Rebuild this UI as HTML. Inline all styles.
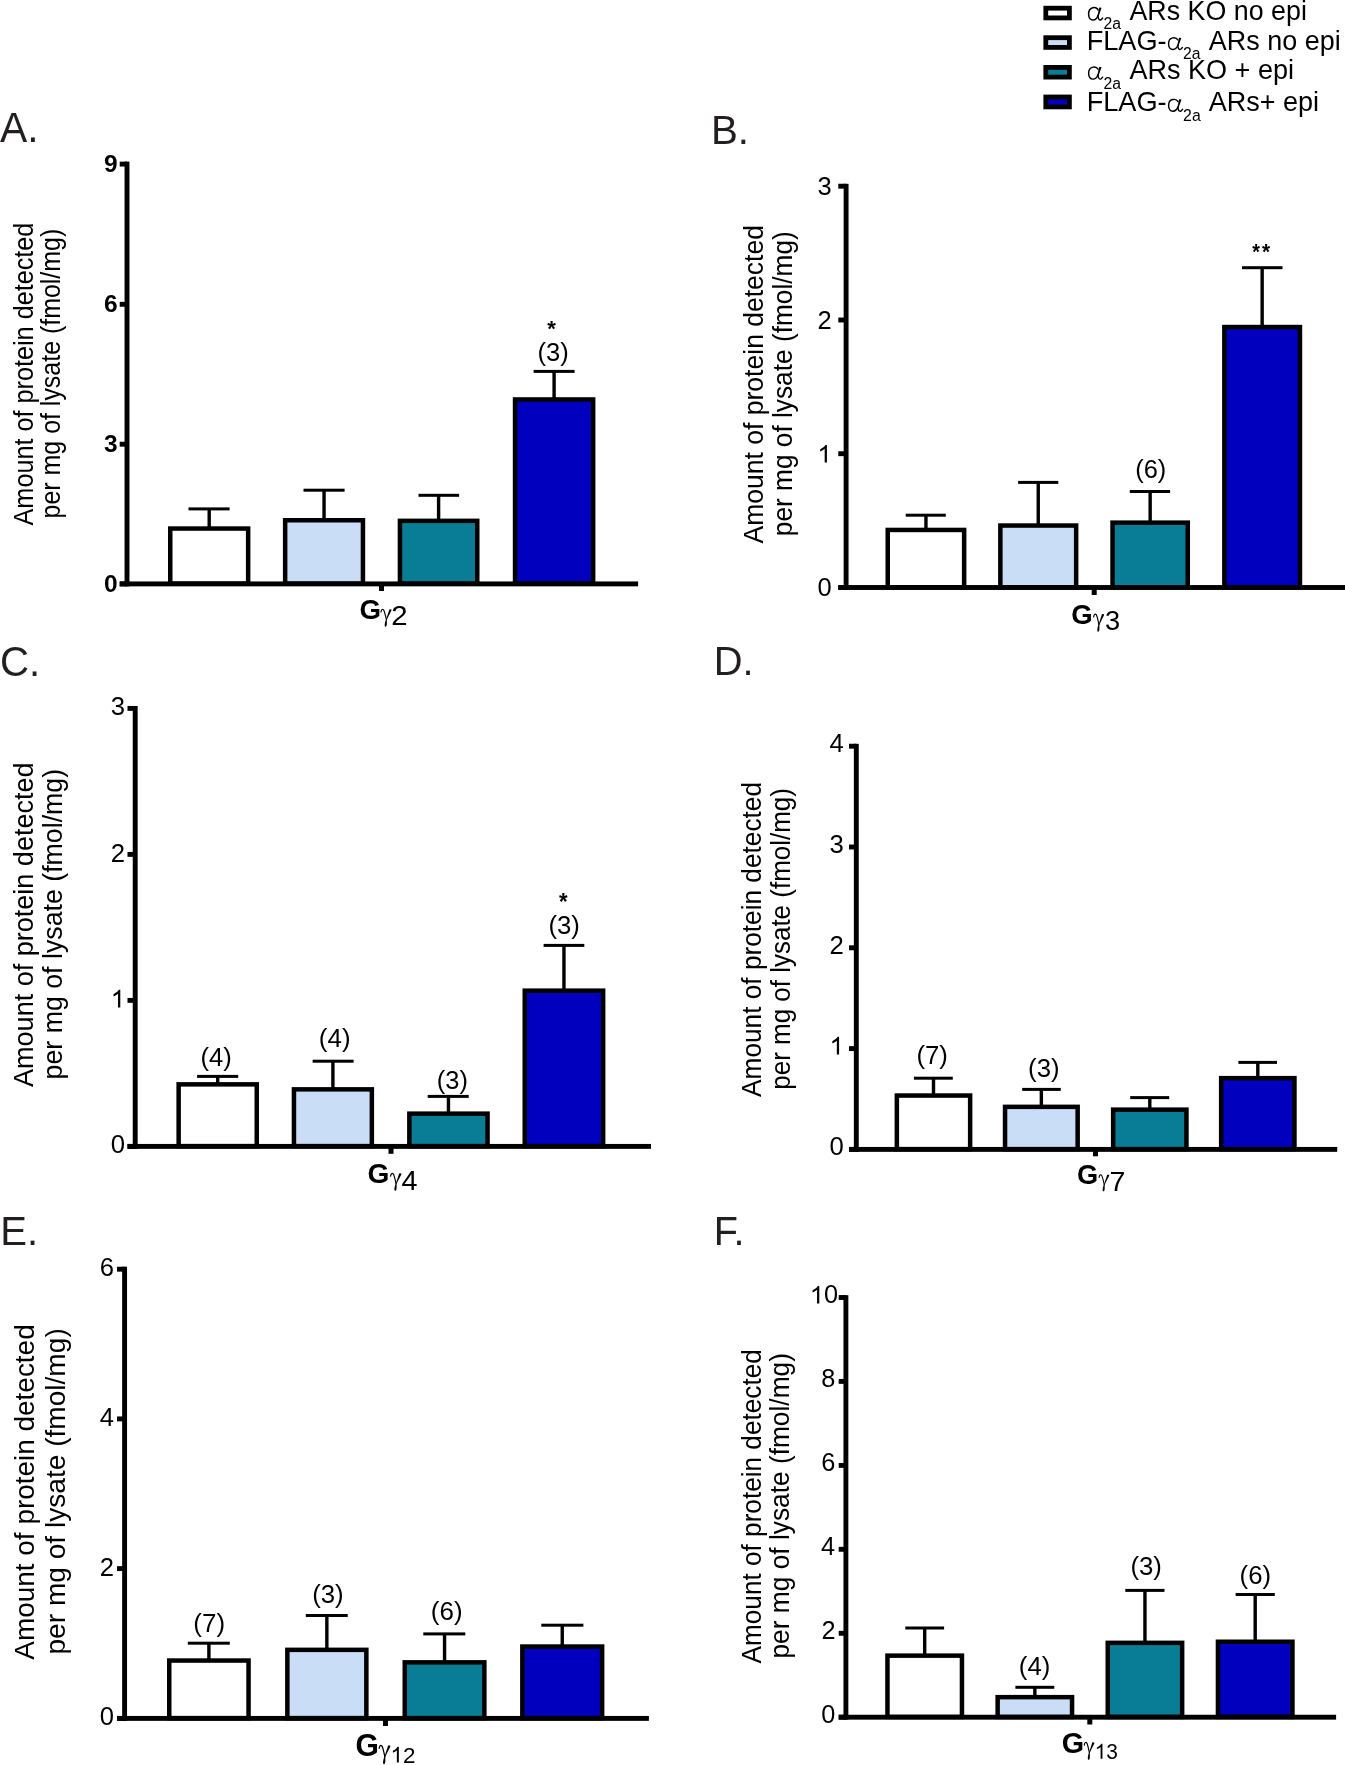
<!DOCTYPE html><html><head><meta charset="utf-8"><title>Figure</title><style>html,body{margin:0;padding:0;background:#fff;overflow:hidden;}svg{display:block;will-change:transform;}</style></head><body>
<svg width="1345" height="1765" viewBox="0 0 1345 1765">
<rect x="0" y="0" width="1345" height="1765" fill="#fff"/>
<rect x="119.70" y="161.65" width="7.30" height="4.90" fill="#000"/>
<rect x="119.70" y="301.85" width="7.30" height="4.90" fill="#000"/>
<rect x="119.70" y="441.75" width="7.30" height="4.90" fill="#000"/>
<rect x="119.70" y="581.45" width="7.30" height="4.90" fill="#000"/>
<rect x="124.55" y="161.60" width="4.90" height="424.75" fill="#000"/>
<rect x="207.50" y="508.90" width="3.40" height="18.40" fill="#000"/>
<rect x="188.50" y="507.40" width="41.10" height="3.00" fill="#000"/>
<rect x="170.25" y="528.55" width="77.90" height="55.10" fill="#ffffff" stroke="#000" stroke-width="4.5"/>
<rect x="322.35" y="490.20" width="3.40" height="28.80" fill="#000"/>
<rect x="303.50" y="488.70" width="41.10" height="3.00" fill="#000"/>
<rect x="285.15" y="520.25" width="77.80" height="63.40" fill="#c9def6" stroke="#000" stroke-width="4.5"/>
<rect x="436.90" y="495.30" width="3.40" height="24.30" fill="#000"/>
<rect x="418.50" y="493.80" width="40.60" height="3.00" fill="#000"/>
<rect x="399.95" y="520.85" width="77.30" height="62.80" fill="#087d95" stroke="#000" stroke-width="4.5"/>
<rect x="552.40" y="371.40" width="3.40" height="26.80" fill="#000"/>
<rect x="533.60" y="369.90" width="41.00" height="3.00" fill="#000"/>
<rect x="515.05" y="399.45" width="78.10" height="184.20" fill="#0000be" stroke="#000" stroke-width="4.5"/>
<rect x="119.70" y="581.45" width="518.40" height="4.90" fill="#000"/>
<rect x="379.00" y="583.90" width="5.00" height="7.10" fill="#000"/>
<text x="103.97" y="172.03" font-family='"Liberation Sans", sans-serif' font-weight="bold" font-style="normal" font-size="24.50" fill="#000" >9</text>
<text x="103.97" y="312.23" font-family='"Liberation Sans", sans-serif' font-weight="bold" font-style="normal" font-size="24.50" fill="#000" >6</text>
<text x="103.97" y="452.12" font-family='"Liberation Sans", sans-serif' font-weight="bold" font-style="normal" font-size="24.50" fill="#000" >3</text>
<text x="103.97" y="591.83" font-family='"Liberation Sans", sans-serif' font-weight="bold" font-style="normal" font-size="24.50" fill="#000" >0</text>
<text x="537.41" y="360.67" font-family='"Liberation Sans", sans-serif' font-weight="normal" font-style="normal" font-size="25.75" fill="#000" textLength="31.28" lengthAdjust="spacingAndGlyphs" >(3)</text>
<text x="547.23" y="335.92" font-family='"Liberation Sans", sans-serif' font-weight="bold" font-style="normal" font-size="22.85" fill="#000" textLength="8.59" lengthAdjust="spacingAndGlyphs" >*</text>
<text x="359.46" y="618.62" font-family='"Liberation Sans", sans-serif' font-weight="bold" font-style="normal" font-size="28.39" fill="#000" textLength="21.55" lengthAdjust="spacingAndGlyphs" >G</text>
<path d="M381.01,612.02 C381.24,609.60 382.52,608.67 383.56,609.79 C384.72,611.28 385.42,616.11 386.35,619.46" fill="none" stroke="#000" stroke-width="1.15" stroke-linecap="round"/>
<path d="M389.48,609.23 L391.45,609.42 Q391.68,609.97 391.34,610.72 L386.87,619.46 L386.00,619.46 Z" fill="#000"/>
<path d="M386.00,618.90 C385.30,621.69 384.26,624.67 384.84,626.16 C385.42,627.27 386.70,626.53 386.81,624.30 C386.93,622.44 386.81,620.58 386.87,618.90 Z" fill="#000"/>
<text x="391.23" y="625.10" font-family='"Liberation Sans", sans-serif' font-weight="normal" font-style="normal" font-size="28.08" fill="#000" textLength="16.34" lengthAdjust="spacingAndGlyphs" >2</text>
<text x="-0.08" y="141.90" font-family='"Liberation Sans", sans-serif' font-weight="normal" font-style="normal" font-size="42.01" fill="#231f20" textLength="38.59" lengthAdjust="spacingAndGlyphs" >A.</text>
<text transform="translate(32.70,525.45) rotate(-90)" x="0" y="0" font-family='"Liberation Sans", sans-serif' font-size="28.2" textLength="302.86" lengthAdjust="spacingAndGlyphs">Amount of protein detected</text>
<text transform="translate(60.40,518.42) rotate(-90)" x="0" y="0" font-family='"Liberation Sans", sans-serif' font-size="28.2" textLength="289.68" lengthAdjust="spacingAndGlyphs">per mg of lysate (fmol/mg)</text>
<rect x="838.30" y="183.75" width="7.80" height="4.90" fill="#000"/>
<rect x="838.30" y="317.55" width="7.80" height="4.90" fill="#000"/>
<rect x="838.30" y="451.25" width="7.80" height="4.90" fill="#000"/>
<rect x="838.30" y="585.05" width="7.80" height="4.90" fill="#000"/>
<rect x="843.65" y="183.80" width="4.90" height="406.15" fill="#000"/>
<rect x="924.25" y="515.20" width="3.40" height="13.50" fill="#000"/>
<rect x="905.70" y="513.70" width="40.10" height="3.00" fill="#000"/>
<rect x="887.75" y="529.95" width="76.40" height="57.30" fill="#ffffff" stroke="#000" stroke-width="4.5"/>
<rect x="1036.55" y="482.40" width="3.40" height="41.90" fill="#000"/>
<rect x="1018.10" y="480.90" width="40.20" height="3.00" fill="#000"/>
<rect x="1000.35" y="525.55" width="75.80" height="61.70" fill="#c9def6" stroke="#000" stroke-width="4.5"/>
<rect x="1148.45" y="491.50" width="3.40" height="29.90" fill="#000"/>
<rect x="1129.80" y="490.00" width="40.30" height="3.00" fill="#000"/>
<rect x="1112.55" y="522.65" width="75.20" height="64.60" fill="#087d95" stroke="#000" stroke-width="4.5"/>
<rect x="1260.45" y="267.70" width="3.40" height="58.10" fill="#000"/>
<rect x="1242.00" y="266.20" width="40.50" height="3.00" fill="#000"/>
<rect x="1224.35" y="327.05" width="75.60" height="260.20" fill="#0000be" stroke="#000" stroke-width="4.5"/>
<rect x="838.30" y="585.05" width="506.70" height="4.90" fill="#000"/>
<rect x="1091.70" y="587.50" width="5.00" height="7.50" fill="#000"/>
<text x="817.42" y="194.97" font-family='"Liberation Sans", sans-serif' font-weight="normal" font-style="normal" font-size="25.50" fill="#000" >3</text>
<text x="817.42" y="328.90" font-family='"Liberation Sans", sans-serif' font-weight="normal" font-style="normal" font-size="25.50" fill="#000" >2</text>
<path d="M372.6,0L284.7,0L284.7,-536Q252.9,-507 201.2,-478Q149.4,-449 107.9,-434.5L107.9,-516Q181.6,-549 236.8,-596Q292,-643.5 314.9,-688L372.6,-688Z" fill="#000" transform="translate(817.42,462.47) scale(0.02550,0.02550)"/>
<text x="817.42" y="596.27" font-family='"Liberation Sans", sans-serif' font-weight="normal" font-style="normal" font-size="25.50" fill="#000" >0</text>
<text x="1135.22" y="478.31" font-family='"Liberation Sans", sans-serif' font-weight="normal" font-style="normal" font-size="25.54" fill="#000" textLength="31.06" lengthAdjust="spacingAndGlyphs" >(6)</text>
<text x="1252.14" y="259.25" font-family='"Liberation Sans", sans-serif' font-weight="bold" font-style="normal" font-size="22.31" fill="#000" textLength="7.68" lengthAdjust="spacingAndGlyphs" >*</text>
<text x="1261.94" y="259.25" font-family='"Liberation Sans", sans-serif' font-weight="bold" font-style="normal" font-size="22.31" fill="#000" textLength="8.09" lengthAdjust="spacingAndGlyphs" >*</text>
<text x="1071.17" y="623.52" font-family='"Liberation Sans", sans-serif' font-weight="bold" font-style="normal" font-size="28.25" fill="#000" textLength="21.43" lengthAdjust="spacingAndGlyphs" >G</text>
<path d="M1093.70,616.86 C1093.93,614.42 1095.18,613.48 1096.21,614.60 C1097.35,616.11 1098.03,621.00 1098.94,624.38" fill="none" stroke="#000" stroke-width="1.16" stroke-linecap="round"/>
<path d="M1102.02,614.04 L1103.96,614.23 Q1104.19,614.79 1103.84,615.54 L1099.45,624.38 L1098.60,624.38 Z" fill="#000"/>
<path d="M1098.60,623.82 C1097.92,626.64 1096.89,629.64 1097.46,631.15 C1098.03,632.28 1099.28,631.52 1099.40,629.27 C1099.51,627.39 1099.40,625.51 1099.45,623.82 Z" fill="#000"/>
<text x="1105.07" y="630.22" font-family='"Liberation Sans", sans-serif' font-weight="normal" font-style="normal" font-size="27.82" fill="#000" textLength="15.14" lengthAdjust="spacingAndGlyphs" >3</text>
<text x="710.90" y="144.10" font-family='"Liberation Sans", sans-serif' font-weight="normal" font-style="normal" font-size="41.42" fill="#231f20" textLength="38.06" lengthAdjust="spacingAndGlyphs" >B.</text>
<text transform="translate(762.70,543.45) rotate(-90)" x="0" y="0" font-family='"Liberation Sans", sans-serif' font-size="28.2" textLength="318.45" lengthAdjust="spacingAndGlyphs">Amount of protein detected</text>
<text transform="translate(791.90,536.21) rotate(-90)" x="0" y="0" font-family='"Liberation Sans", sans-serif' font-size="28.2" textLength="305.04" lengthAdjust="spacingAndGlyphs">per mg of lysate (fmol/mg)</text>
<rect x="127.50" y="705.95" width="7.70" height="4.90" fill="#000"/>
<rect x="127.50" y="851.95" width="7.70" height="4.90" fill="#000"/>
<rect x="127.50" y="997.95" width="7.70" height="4.90" fill="#000"/>
<rect x="127.50" y="1143.95" width="7.70" height="4.90" fill="#000"/>
<rect x="132.75" y="706.00" width="4.90" height="442.85" fill="#000"/>
<rect x="216.00" y="1076.40" width="3.40" height="6.70" fill="#000"/>
<rect x="197.10" y="1074.90" width="41.10" height="3.00" fill="#000"/>
<rect x="178.65" y="1084.35" width="78.10" height="61.80" fill="#ffffff" stroke="#000" stroke-width="4.5"/>
<rect x="331.20" y="1061.20" width="3.40" height="26.90" fill="#000"/>
<rect x="312.60" y="1059.70" width="41.00" height="3.00" fill="#000"/>
<rect x="293.95" y="1089.35" width="77.90" height="56.80" fill="#c9def6" stroke="#000" stroke-width="4.5"/>
<rect x="446.75" y="1096.40" width="3.40" height="16.00" fill="#000"/>
<rect x="427.70" y="1094.90" width="41.00" height="3.00" fill="#000"/>
<rect x="409.35" y="1113.65" width="78.20" height="32.50" fill="#087d95" stroke="#000" stroke-width="4.5"/>
<rect x="562.25" y="945.40" width="3.40" height="44.00" fill="#000"/>
<rect x="543.60" y="943.90" width="40.70" height="3.00" fill="#000"/>
<rect x="524.75" y="990.65" width="78.40" height="155.50" fill="#0000be" stroke="#000" stroke-width="4.5"/>
<rect x="127.50" y="1143.95" width="523.50" height="4.90" fill="#000"/>
<rect x="388.50" y="1146.40" width="5.00" height="7.40" fill="#000"/>
<text x="110.71" y="715.44" font-family='"Liberation Sans", sans-serif' font-weight="normal" font-style="normal" font-size="25.70" fill="#000" >3</text>
<text x="110.71" y="861.57" font-family='"Liberation Sans", sans-serif' font-weight="normal" font-style="normal" font-size="25.70" fill="#000" >2</text>
<path d="M372.6,0L284.7,0L284.7,-536Q252.9,-507 201.2,-478Q149.4,-449 107.9,-434.5L107.9,-516Q181.6,-549 236.8,-596Q292,-643.5 314.9,-688L372.6,-688Z" fill="#000" transform="translate(110.71,1007.44) scale(0.02570,0.02570)"/>
<text x="110.71" y="1153.44" font-family='"Liberation Sans", sans-serif' font-weight="normal" font-style="normal" font-size="25.70" fill="#000" >0</text>
<text x="200.41" y="1065.57" font-family='"Liberation Sans", sans-serif' font-weight="normal" font-style="normal" font-size="25.75" fill="#000" textLength="31.28" lengthAdjust="spacingAndGlyphs" >(4)</text>
<text x="318.89" y="1046.59" font-family='"Liberation Sans", sans-serif' font-weight="normal" font-style="normal" font-size="25.64" fill="#000" textLength="31.72" lengthAdjust="spacingAndGlyphs" >(4)</text>
<text x="436.82" y="1088.51" font-family='"Liberation Sans", sans-serif' font-weight="normal" font-style="normal" font-size="25.54" fill="#000" textLength="31.06" lengthAdjust="spacingAndGlyphs" >(3)</text>
<text x="548.40" y="934.25" font-family='"Liberation Sans", sans-serif' font-weight="normal" font-style="normal" font-size="25.86" fill="#000" textLength="31.50" lengthAdjust="spacingAndGlyphs" >(3)</text>
<text x="558.93" y="910.19" font-family='"Liberation Sans", sans-serif' font-weight="bold" font-style="normal" font-size="23.39" fill="#000" textLength="8.59" lengthAdjust="spacingAndGlyphs" >*</text>
<text x="367.45" y="1182.62" font-family='"Liberation Sans", sans-serif' font-weight="bold" font-style="normal" font-size="27.97" fill="#000" textLength="21.89" lengthAdjust="spacingAndGlyphs" >G</text>
<path d="M390.63,1176.12 C390.87,1173.70 392.18,1172.77 393.25,1173.89 C394.44,1175.38 395.15,1180.21 396.11,1183.56" fill="none" stroke="#000" stroke-width="1.15" stroke-linecap="round"/>
<path d="M399.32,1173.33 L401.34,1173.52 Q401.58,1174.07 401.22,1174.82 L396.64,1183.56 L395.75,1183.56 Z" fill="#000"/>
<path d="M395.75,1183.00 C395.04,1185.79 393.97,1188.77 394.56,1190.26 C395.15,1191.37 396.46,1190.63 396.58,1188.40 C396.70,1186.54 396.58,1184.68 396.64,1183.00 Z" fill="#000"/>
<text x="401.44" y="1189.50" font-family='"Liberation Sans", sans-serif' font-weight="normal" font-style="normal" font-size="28.20" fill="#000" textLength="16.00" lengthAdjust="spacingAndGlyphs" >4</text>
<text x="0.05" y="675.57" font-family='"Liberation Sans", sans-serif' font-weight="normal" font-style="normal" font-size="42.51" fill="#231f20" textLength="40.21" lengthAdjust="spacingAndGlyphs" >C.</text>
<text transform="translate(32.70,1086.95) rotate(-90)" x="0" y="0" font-family='"Liberation Sans", sans-serif' font-size="28.2" textLength="324.48" lengthAdjust="spacingAndGlyphs">Amount of protein detected</text>
<text transform="translate(62.20,1079.44) rotate(-90)" x="0" y="0" font-family='"Liberation Sans", sans-serif' font-size="28.2" textLength="310.60" lengthAdjust="spacingAndGlyphs">per mg of lysate (fmol/mg)</text>
<rect x="849.00" y="743.75" width="7.30" height="4.90" fill="#000"/>
<rect x="849.00" y="844.55" width="7.30" height="4.90" fill="#000"/>
<rect x="849.00" y="945.35" width="7.30" height="4.90" fill="#000"/>
<rect x="849.00" y="1046.15" width="7.30" height="4.90" fill="#000"/>
<rect x="849.00" y="1146.95" width="7.30" height="4.90" fill="#000"/>
<rect x="853.85" y="743.80" width="4.90" height="408.05" fill="#000"/>
<rect x="931.80" y="1078.20" width="3.40" height="16.10" fill="#000"/>
<rect x="913.90" y="1076.70" width="38.90" height="3.00" fill="#000"/>
<rect x="896.85" y="1095.55" width="73.30" height="53.60" fill="#ffffff" stroke="#000" stroke-width="4.5"/>
<rect x="1039.65" y="1089.40" width="3.40" height="16.20" fill="#000"/>
<rect x="1022.20" y="1087.90" width="38.60" height="3.00" fill="#000"/>
<rect x="1005.05" y="1106.85" width="72.60" height="42.30" fill="#c9def6" stroke="#000" stroke-width="4.5"/>
<rect x="1148.10" y="1097.60" width="3.40" height="10.80" fill="#000"/>
<rect x="1130.20" y="1096.10" width="39.00" height="3.00" fill="#000"/>
<rect x="1113.15" y="1109.65" width="73.30" height="39.50" fill="#087d95" stroke="#000" stroke-width="4.5"/>
<rect x="1256.10" y="1062.40" width="3.40" height="14.50" fill="#000"/>
<rect x="1238.40" y="1060.90" width="38.60" height="3.00" fill="#000"/>
<rect x="1221.15" y="1078.15" width="73.30" height="71.00" fill="#0000be" stroke="#000" stroke-width="4.5"/>
<rect x="849.00" y="1146.95" width="488.20" height="4.90" fill="#000"/>
<rect x="1093.00" y="1149.40" width="5.00" height="6.90" fill="#000"/>
<text x="829.51" y="752.04" font-family='"Liberation Sans", sans-serif' font-weight="normal" font-style="normal" font-size="25.70" fill="#000" >4</text>
<text x="829.51" y="852.84" font-family='"Liberation Sans", sans-serif' font-weight="normal" font-style="normal" font-size="25.70" fill="#000" >3</text>
<text x="829.51" y="953.77" font-family='"Liberation Sans", sans-serif' font-weight="normal" font-style="normal" font-size="25.70" fill="#000" >2</text>
<path d="M372.6,0L284.7,0L284.7,-536Q252.9,-507 201.2,-478Q149.4,-449 107.9,-434.5L107.9,-516Q181.6,-549 236.8,-596Q292,-643.5 314.9,-688L372.6,-688Z" fill="#000" transform="translate(829.51,1054.44) scale(0.02570,0.02570)"/>
<text x="829.51" y="1155.24" font-family='"Liberation Sans", sans-serif' font-weight="normal" font-style="normal" font-size="25.70" fill="#000" >0</text>
<text x="916.40" y="1063.51" font-family='"Liberation Sans", sans-serif' font-weight="normal" font-style="normal" font-size="25.54" fill="#000" textLength="31.50" lengthAdjust="spacingAndGlyphs" >(7)</text>
<text x="1028.10" y="1076.51" font-family='"Liberation Sans", sans-serif' font-weight="normal" font-style="normal" font-size="25.54" fill="#000" textLength="31.50" lengthAdjust="spacingAndGlyphs" >(3)</text>
<text x="1076.98" y="1183.91" font-family='"Liberation Sans", sans-serif' font-weight="bold" font-style="normal" font-size="28.53" fill="#000" textLength="21.20" lengthAdjust="spacingAndGlyphs" >G</text>
<path d="M1099.08,1177.36 C1099.31,1175.05 1100.54,1174.16 1101.55,1175.22 C1102.67,1176.65 1103.34,1181.28 1104.24,1184.48" fill="none" stroke="#000" stroke-width="1.10" stroke-linecap="round"/>
<path d="M1107.26,1174.69 L1109.16,1174.87 Q1109.39,1175.40 1109.05,1176.11 L1104.74,1184.48 L1103.90,1184.48 Z" fill="#000"/>
<path d="M1103.90,1183.95 C1103.23,1186.62 1102.22,1189.46 1102.78,1190.89 C1103.34,1191.96 1104.57,1191.24 1104.68,1189.11 C1104.80,1187.33 1104.68,1185.55 1104.74,1183.95 Z" fill="#000"/>
<text x="1109.54" y="1190.50" font-family='"Liberation Sans", sans-serif' font-weight="normal" font-style="normal" font-size="28.05" fill="#000" textLength="15.89" lengthAdjust="spacingAndGlyphs" >7</text>
<text x="713.73" y="675.40" font-family='"Liberation Sans", sans-serif' font-weight="normal" font-style="normal" font-size="41.57" fill="#231f20" textLength="39.90" lengthAdjust="spacingAndGlyphs" >D.</text>
<text transform="translate(761.20,1096.95) rotate(-90)" x="0" y="0" font-family='"Liberation Sans", sans-serif' font-size="28.2" textLength="314.93" lengthAdjust="spacingAndGlyphs">Amount of protein detected</text>
<text transform="translate(790.40,1089.69) rotate(-90)" x="0" y="0" font-family='"Liberation Sans", sans-serif' font-size="28.2" textLength="301.61" lengthAdjust="spacingAndGlyphs">per mg of lysate (fmol/mg)</text>
<rect x="117.00" y="1266.75" width="7.60" height="4.90" fill="#000"/>
<rect x="117.00" y="1416.45" width="7.60" height="4.90" fill="#000"/>
<rect x="117.00" y="1566.15" width="7.60" height="4.90" fill="#000"/>
<rect x="117.00" y="1715.95" width="7.60" height="4.90" fill="#000"/>
<rect x="122.15" y="1266.70" width="4.90" height="454.15" fill="#000"/>
<rect x="207.20" y="1643.20" width="3.40" height="16.10" fill="#000"/>
<rect x="187.80" y="1641.70" width="42.00" height="3.00" fill="#000"/>
<rect x="169.25" y="1660.55" width="79.30" height="57.60" fill="#ffffff" stroke="#000" stroke-width="4.5"/>
<rect x="325.15" y="1615.50" width="3.40" height="33.10" fill="#000"/>
<rect x="305.80" y="1614.00" width="41.90" height="3.00" fill="#000"/>
<rect x="287.35" y="1649.85" width="79.00" height="68.30" fill="#c9def6" stroke="#000" stroke-width="4.5"/>
<rect x="442.85" y="1633.90" width="3.40" height="27.20" fill="#000"/>
<rect x="423.30" y="1632.40" width="42.00" height="3.00" fill="#000"/>
<rect x="404.75" y="1662.35" width="79.60" height="55.80" fill="#087d95" stroke="#000" stroke-width="4.5"/>
<rect x="560.55" y="1625.20" width="3.40" height="20.10" fill="#000"/>
<rect x="541.30" y="1623.70" width="42.10" height="3.00" fill="#000"/>
<rect x="522.35" y="1646.55" width="79.80" height="71.60" fill="#0000be" stroke="#000" stroke-width="4.5"/>
<rect x="117.00" y="1715.95" width="531.90" height="4.90" fill="#000"/>
<rect x="383.00" y="1718.40" width="5.00" height="7.60" fill="#000"/>
<text x="99.66" y="1276.21" font-family='"Liberation Sans", sans-serif' font-weight="normal" font-style="normal" font-size="25.60" fill="#000" >6</text>
<text x="99.66" y="1425.91" font-family='"Liberation Sans", sans-serif' font-weight="normal" font-style="normal" font-size="25.60" fill="#000" >4</text>
<text x="99.66" y="1575.73" font-family='"Liberation Sans", sans-serif' font-weight="normal" font-style="normal" font-size="25.60" fill="#000" >2</text>
<text x="99.66" y="1725.41" font-family='"Liberation Sans", sans-serif' font-weight="normal" font-style="normal" font-size="25.60" fill="#000" >0</text>
<text x="193.39" y="1631.51" font-family='"Liberation Sans", sans-serif' font-weight="normal" font-style="normal" font-size="25.54" fill="#000" textLength="31.72" lengthAdjust="spacingAndGlyphs" >(7)</text>
<text x="312.20" y="1602.77" font-family='"Liberation Sans", sans-serif' font-weight="normal" font-style="normal" font-size="25.75" fill="#000" textLength="31.50" lengthAdjust="spacingAndGlyphs" >(3)</text>
<text x="430.89" y="1619.59" font-family='"Liberation Sans", sans-serif' font-weight="normal" font-style="normal" font-size="25.64" fill="#000" textLength="31.72" lengthAdjust="spacingAndGlyphs" >(6)</text>
<text x="355.47" y="1755.59" font-family='"Liberation Sans", sans-serif' font-weight="bold" font-style="normal" font-size="30.93" fill="#000" textLength="23.39" lengthAdjust="spacingAndGlyphs" >G</text>
<path d="M379.16,1748.40 C379.41,1745.80 380.76,1744.80 381.87,1746.00 C383.10,1747.60 383.84,1752.80 384.82,1756.40" fill="none" stroke="#000" stroke-width="1.24" stroke-linecap="round"/>
<path d="M388.14,1745.40 L390.23,1745.60 Q390.48,1746.20 390.11,1747.00 L385.37,1756.40 L384.45,1756.40 Z" fill="#000"/>
<path d="M384.45,1755.80 C383.71,1758.80 382.61,1762.00 383.22,1763.60 C383.84,1764.80 385.19,1764.00 385.31,1761.60 C385.43,1759.60 385.31,1757.60 385.37,1755.80 Z" fill="#000"/>
<path d="M372.6,0L284.7,0L284.7,-536Q252.9,-507 201.2,-478Q149.4,-449 107.9,-434.5L107.9,-516Q181.6,-549 236.8,-596Q292,-643.5 314.9,-688L372.6,-688Z" fill="#000" transform="translate(390.48,1762.60) scale(0.02243,0.02292)"/>
<text x="402.95" y="1762.60" font-family='"Liberation Sans", sans-serif' font-weight="normal" font-style="normal" font-size="22.92" fill="#000" textLength="12.48" lengthAdjust="spacingAndGlyphs">2</text>
<text x="0.32" y="1244.50" font-family='"Liberation Sans", sans-serif' font-weight="normal" font-style="normal" font-size="41.57" fill="#231f20" textLength="37.82" lengthAdjust="spacingAndGlyphs" >E.</text>
<text transform="translate(34.20,1659.66) rotate(-90)" x="0" y="0" font-family='"Liberation Sans", sans-serif' font-size="28.2" textLength="335.34" lengthAdjust="spacingAndGlyphs">Amount of protein detected</text>
<text transform="translate(64.50,1654.53) rotate(-90)" x="0" y="0" font-family='"Liberation Sans", sans-serif' font-size="28.2" textLength="326.28" lengthAdjust="spacingAndGlyphs">per mg of lysate (fmol/mg)</text>
<rect x="838.70" y="1295.05" width="7.20" height="4.90" fill="#000"/>
<rect x="838.70" y="1378.95" width="7.20" height="4.90" fill="#000"/>
<rect x="838.70" y="1462.95" width="7.20" height="4.90" fill="#000"/>
<rect x="838.70" y="1546.85" width="7.20" height="4.90" fill="#000"/>
<rect x="838.70" y="1630.85" width="7.20" height="4.90" fill="#000"/>
<rect x="838.70" y="1714.75" width="7.20" height="4.90" fill="#000"/>
<rect x="843.45" y="1295.20" width="4.90" height="424.45" fill="#000"/>
<rect x="923.00" y="1628.00" width="3.40" height="26.40" fill="#000"/>
<rect x="905.30" y="1626.50" width="38.80" height="3.00" fill="#000"/>
<rect x="887.45" y="1655.65" width="74.50" height="61.30" fill="#ffffff" stroke="#000" stroke-width="4.5"/>
<rect x="1033.15" y="1687.30" width="3.40" height="8.60" fill="#000"/>
<rect x="1015.40" y="1685.80" width="38.90" height="3.00" fill="#000"/>
<rect x="997.65" y="1697.15" width="74.40" height="19.80" fill="#c9def6" stroke="#000" stroke-width="4.5"/>
<rect x="1143.25" y="1590.40" width="3.40" height="51.20" fill="#000"/>
<rect x="1125.30" y="1588.90" width="39.20" height="3.00" fill="#000"/>
<rect x="1107.75" y="1642.85" width="74.40" height="74.10" fill="#087d95" stroke="#000" stroke-width="4.5"/>
<rect x="1253.50" y="1594.50" width="3.40" height="46.00" fill="#000"/>
<rect x="1235.60" y="1593.00" width="39.20" height="3.00" fill="#000"/>
<rect x="1217.95" y="1641.75" width="74.50" height="75.20" fill="#0000be" stroke="#000" stroke-width="4.5"/>
<rect x="838.70" y="1714.75" width="497.40" height="4.90" fill="#000"/>
<rect x="1087.30" y="1717.20" width="5.00" height="7.30" fill="#000"/>
<path d="M372.6,0L284.7,0L284.7,-536Q252.9,-507 201.2,-478Q149.4,-449 107.9,-434.5L107.9,-516Q181.6,-549 236.8,-596Q292,-643.5 314.9,-688L372.6,-688Z" fill="#000" transform="translate(809.85,1303.40) scale(0.02530,0.02530)"/>
<text x="823.92" y="1303.40" font-family='"Liberation Sans", sans-serif' font-weight="normal" font-style="normal" font-size="25.30" fill="#000">0</text>
<text x="821.32" y="1387.30" font-family='"Liberation Sans", sans-serif' font-weight="normal" font-style="normal" font-size="25.30" fill="#000" >8</text>
<text x="821.35" y="1471.30" font-family='"Liberation Sans", sans-serif' font-weight="normal" font-style="normal" font-size="25.30" fill="#000" >6</text>
<text x="820.97" y="1555.20" font-family='"Liberation Sans", sans-serif' font-weight="normal" font-style="normal" font-size="25.30" fill="#000" >4</text>
<text x="821.50" y="1639.33" font-family='"Liberation Sans", sans-serif' font-weight="normal" font-style="normal" font-size="25.30" fill="#000" >2</text>
<text x="821.22" y="1723.10" font-family='"Liberation Sans", sans-serif' font-weight="normal" font-style="normal" font-size="25.30" fill="#000" >0</text>
<text x="1018.80" y="1675.29" font-family='"Liberation Sans", sans-serif' font-weight="normal" font-style="normal" font-size="25.64" fill="#000" textLength="31.61" lengthAdjust="spacingAndGlyphs" >(4)</text>
<text x="1130.40" y="1574.59" font-family='"Liberation Sans", sans-serif' font-weight="normal" font-style="normal" font-size="25.64" fill="#000" textLength="31.50" lengthAdjust="spacingAndGlyphs" >(3)</text>
<text x="1239.60" y="1583.51" font-family='"Liberation Sans", sans-serif' font-weight="normal" font-style="normal" font-size="25.54" fill="#000" textLength="31.50" lengthAdjust="spacingAndGlyphs" >(6)</text>
<text x="1061.82" y="1752.61" font-family='"Liberation Sans", sans-serif' font-weight="bold" font-style="normal" font-size="29.38" fill="#000" textLength="22.36" lengthAdjust="spacingAndGlyphs" >G</text>
<path d="M1084.28,1745.12 C1084.50,1742.70 1085.72,1741.77 1086.72,1742.89 C1087.83,1744.38 1088.49,1749.21 1089.38,1752.56" fill="none" stroke="#000" stroke-width="1.15" stroke-linecap="round"/>
<path d="M1092.38,1742.33 L1094.27,1742.52 Q1094.49,1743.07 1094.16,1743.82 L1089.88,1752.56 L1089.05,1752.56 Z" fill="#000"/>
<path d="M1089.05,1752.00 C1088.38,1754.79 1087.38,1757.77 1087.94,1759.26 C1088.49,1760.37 1089.72,1759.63 1089.83,1757.40 C1089.94,1755.54 1089.83,1753.68 1089.88,1752.00 Z" fill="#000"/>
<path d="M372.6,0L284.7,0L284.7,-536Q252.9,-507 201.2,-478Q149.4,-449 107.9,-434.5L107.9,-516Q181.6,-549 236.8,-596Q292,-643.5 314.9,-688L372.6,-688Z" fill="#000" transform="translate(1094.64,1758.68) scale(0.02094,0.02161)"/>
<text x="1106.28" y="1758.68" font-family='"Liberation Sans", sans-serif' font-weight="normal" font-style="normal" font-size="21.61" fill="#000" textLength="11.64" lengthAdjust="spacingAndGlyphs">3</text>
<text x="713.75" y="1244.50" font-family='"Liberation Sans", sans-serif' font-weight="normal" font-style="normal" font-size="41.57" fill="#231f20" textLength="30.86" lengthAdjust="spacingAndGlyphs" >F.</text>
<text transform="translate(760.60,1663.45) rotate(-90)" x="0" y="0" font-family='"Liberation Sans", sans-serif' font-size="28.2" textLength="314.22" lengthAdjust="spacingAndGlyphs">Amount of protein detected</text>
<text transform="translate(788.90,1658.51) rotate(-90)" x="0" y="0" font-family='"Liberation Sans", sans-serif' font-size="28.2" textLength="305.45" lengthAdjust="spacingAndGlyphs">per mg of lysate (fmol/mg)</text>
<rect x="1045.80" y="8.20" width="23.60" height="9.70" fill="#ffffff" stroke="#000" stroke-width="4.8"/>
<rect x="1045.80" y="37.70" width="23.60" height="9.70" fill="#c9def6" stroke="#000" stroke-width="4.8"/>
<rect x="1045.80" y="67.40" width="23.60" height="9.70" fill="#087d95" stroke="#000" stroke-width="4.8"/>
<rect x="1045.80" y="97.00" width="23.60" height="9.90" fill="#0000be" stroke="#000" stroke-width="4.8"/>
<path d="M1098.09,9.95 C1096.82,7.18 1094.28,7.45 1092.69,7.73 C1089.19,8.56 1088.55,12.44 1088.63,14.52 C1088.71,17.98 1090.46,20.20 1093.01,20.06 C1095.55,19.92 1097.14,17.98 1098.09,15.49" fill="none" stroke="#000" stroke-width="1.50" stroke-linecap="round"/>
<path d="M1099.21,7.59 L1101.59,7.73 L1098.73,16.04 L1097.46,15.49 Z" fill="#000"/>
<path d="M1098.09,15.49 C1098.09,19.64 1099.68,20.75 1101.27,19.64 L1102.70,17.98" fill="none" stroke="#000" stroke-width="1.40" stroke-linecap="round"/>
<text x="1103.41" y="28.94" font-family='"Liberation Sans", sans-serif' font-weight="normal" font-style="normal" font-size="16.24" fill="#000" textLength="17.49" lengthAdjust="spacingAndGlyphs" >2a</text>
<text x="1129.45" y="19.90" font-family='"Liberation Sans", sans-serif' font-weight="normal" font-style="normal" font-size="27.30" fill="#000" textLength="177.46" lengthAdjust="spacingAndGlyphs">ARs KO no epi</text>
<text x="1086.67" y="49.70" font-family='"Liberation Sans", sans-serif' font-weight="normal" font-style="normal" font-size="27.30" fill="#000" textLength="80.02" lengthAdjust="spacingAndGlyphs">FLAG-</text>
<path d="M1177.90,39.96 C1176.65,37.36 1174.15,37.62 1172.59,37.88 C1169.16,38.66 1168.54,42.30 1168.61,44.25 C1168.69,47.50 1170.41,49.58 1172.90,49.45 C1175.40,49.32 1176.96,47.50 1177.90,45.16" fill="none" stroke="#000" stroke-width="1.41" stroke-linecap="round"/>
<path d="M1178.99,37.75 L1181.33,37.88 L1178.52,45.68 L1177.27,45.16 Z" fill="#000"/>
<path d="M1177.90,45.16 C1177.90,49.06 1179.46,50.10 1181.02,49.06 L1182.42,47.50" fill="none" stroke="#000" stroke-width="1.31" stroke-linecap="round"/>
<text x="1183.11" y="58.83" font-family='"Liberation Sans", sans-serif' font-weight="normal" font-style="normal" font-size="16.67" fill="#000" textLength="17.49" lengthAdjust="spacingAndGlyphs" >2a</text>
<text x="1208.75" y="49.70" font-family='"Liberation Sans", sans-serif' font-weight="normal" font-style="normal" font-size="27.30" fill="#000" textLength="131.88" lengthAdjust="spacingAndGlyphs">ARs no epi</text>
<path d="M1098.09,69.27 C1096.82,66.57 1094.28,66.84 1092.69,67.11 C1089.19,67.92 1088.55,71.70 1088.63,73.72 C1088.71,77.10 1090.46,79.26 1093.01,79.12 C1095.55,78.99 1097.14,77.10 1098.09,74.67" fill="none" stroke="#000" stroke-width="1.46" stroke-linecap="round"/>
<path d="M1099.21,66.97 L1101.59,67.11 L1098.73,75.21 L1097.46,74.67 Z" fill="#000"/>
<path d="M1098.09,74.67 C1098.09,78.72 1099.68,79.80 1101.27,78.72 L1102.70,77.10" fill="none" stroke="#000" stroke-width="1.36" stroke-linecap="round"/>
<text x="1103.41" y="88.54" font-family='"Liberation Sans", sans-serif' font-weight="normal" font-style="normal" font-size="16.24" fill="#000" textLength="17.49" lengthAdjust="spacingAndGlyphs" >2a</text>
<text x="1129.45" y="79.20" font-family='"Liberation Sans", sans-serif' font-weight="normal" font-style="normal" font-size="27.30" fill="#000" textLength="164.56" lengthAdjust="spacingAndGlyphs">ARs KO + epi</text>
<text x="1086.67" y="111.30" font-family='"Liberation Sans", sans-serif' font-weight="normal" font-style="normal" font-size="27.30" fill="#000" textLength="80.02" lengthAdjust="spacingAndGlyphs">FLAG-</text>
<path d="M1178.03,101.60 C1176.76,98.96 1174.24,99.23 1172.66,99.49 C1169.18,100.28 1168.55,103.98 1168.63,105.96 C1168.71,109.26 1170.44,111.37 1172.97,111.24 C1175.50,111.11 1177.08,109.26 1178.03,106.88" fill="none" stroke="#000" stroke-width="1.43" stroke-linecap="round"/>
<path d="M1179.13,99.36 L1181.50,99.49 L1178.66,107.41 L1177.40,106.88 Z" fill="#000"/>
<path d="M1178.03,106.88 C1178.03,110.84 1179.61,111.90 1181.19,110.84 L1182.61,109.26" fill="none" stroke="#000" stroke-width="1.33" stroke-linecap="round"/>
<text x="1183.11" y="120.63" font-family='"Liberation Sans", sans-serif' font-weight="normal" font-style="normal" font-size="16.67" fill="#000" textLength="17.60" lengthAdjust="spacingAndGlyphs" >2a</text>
<text x="1208.75" y="111.30" font-family='"Liberation Sans", sans-serif' font-weight="normal" font-style="normal" font-size="27.30" fill="#000" textLength="110.38" lengthAdjust="spacingAndGlyphs">ARs+ epi</text>
</svg></body></html>
